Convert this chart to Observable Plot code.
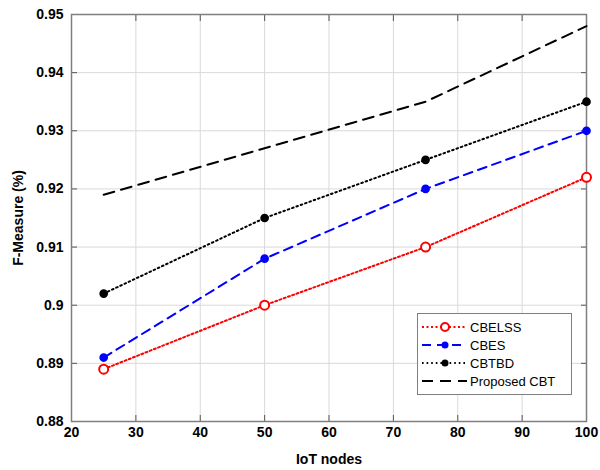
<!DOCTYPE html>
<html>
<head>
<meta charset="utf-8">
<script src="https://cdn.jsdelivr.net/npm/d3@7"></script>
<script src="https://cdn.jsdelivr.net/npm/@observablehq/plot@0.6"></script>
<style>
  body { margin: 0; background: #fff; }
  #wrap { position: relative; width: 600px; height: 470px; }
  #legend {
    position: absolute; left: 417px; top: 313px; width: 155px; height: 82px;
    border: 1px solid #7f7f7f; background: #fff; box-sizing: border-box;
    font-family: "Liberation Sans", Arial, sans-serif; font-size: 13px; color: #000;
    padding-top: 4px;
  }
  .row { display: flex; align-items: center; height: 18px; }
  .row svg { margin-left: 3px; margin-right: 2px; }
</style>
</head>
<body>
<div id="wrap"><div id="chart"></div><div id="legend"></div></div>
<script>
const nodes = [25, 50, 75, 100];
const seriesNames = ["CBELSS", "CBES", "CBTBD", "Proposed CBT"];
const cbelss = [0.889, 0.900, 0.910, 0.922];
const cbes = [0.891, 0.908, 0.920, 0.930];
const cbtbd = [0.902, 0.915, 0.925, 0.935];
const proposed = [0.919, 0.927, 0.935, 0.948];
const xTicks = [20, 30, 40, 50, 60, 70, 80, 90, 100];
const yTicks = [0.88, 0.89, 0.90, 0.91, 0.92, 0.93, 0.94, 0.95];

const styles = {
  "CBELSS": {color: "#ff0000", dash: "2 2.5", marker: "open"},
  "CBES": {color: "#0000ff", dash: "9 6", marker: "filled"},
  "CBTBD": {color: "#000000", dash: "1.6 3", marker: "filled"},
  "Proposed CBT": {color: "#000000", dash: "11 7", marker: null}
};
const valuesBySeries = [cbelss, cbes, cbtbd, proposed];
const data = seriesNames.map((name, i) => nodes.map((n, j) => ({name, x: n, y: valuesBySeries[i][j]})));

const fontFam = '"Liberation Sans Narrow", "Liberation Sans", Arial, sans-serif';
const yFmt = d => String(+d.toFixed(2));

const marks = [
  Plot.gridX(xTicks, {stroke: "#d9d9d9", strokeOpacity: 1, strokeWidth: 1}),
  Plot.gridY(yTicks, {stroke: "#d9d9d9", strokeOpacity: 1, strokeWidth: 1}),
  Plot.axisX(xTicks, {tickSize: -6, stroke: "#555", tickPadding: 12, fontWeight: "bold", fontSize: 14,
    label: "IoT nodes", labelAnchor: "center", labelArrow: "none", labelOffset: 42}),
  Plot.axisX(xTicks, {anchor: "top", tickSize: -6, stroke: "#555", tickFormat: () => "", label: null}),
  Plot.axisY(yTicks, {tickSize: -6, stroke: "#555", tickPadding: 14, fontWeight: "bold", fontSize: 14, tickFormat: yFmt,
    label: "F-Measure (%)", labelAnchor: "center", labelArrow: "none", labelOffset: 58}),
  Plot.axisY(yTicks, {anchor: "right", tickSize: -6, stroke: "#555", tickFormat: () => "", label: null}),
  Plot.frame({stroke: "#7f7f7f", strokeWidth: 1.5})
];
data.forEach(d => {
  const s = styles[d[0].name];
  marks.push(Plot.line(d, {x: "x", y: "y", stroke: s.color, strokeWidth: 2, strokeDasharray: s.dash}));
  if (s.marker === "open") marks.push(Plot.dot(d, {x: "x", y: "y", r: 4.5, stroke: s.color, strokeWidth: 2, fill: "#fff"}));
  if (s.marker === "filled") marks.push(Plot.dot(d, {x: "x", y: "y", r: 3.6, stroke: s.color, fill: s.color}));
});

const chart = Plot.plot({
  width: 600, height: 470,
  marginLeft: 71, marginRight: 14, marginTop: 14, marginBottom: 49,
  style: {fontFamily: fontFam, fontSize: "14px", color: "#000", background: "#fff"},
  x: {domain: [20, 100]},
  y: {domain: [0.88, 0.95]},
  marks
});
chart.querySelectorAll('[aria-label="x-axis label"] text, [aria-label="y-axis label"] text').forEach(t => {
  t.setAttribute("font-weight", "bold");
});
document.getElementById("chart").append(chart);

const legend = document.getElementById("legend");
seriesNames.forEach(name => {
  const s = styles[name];
  const row = document.createElement("div");
  row.className = "row";
  let m = "";
  if (s.marker === "open") m = `<circle cx="24" cy="7" r="4" fill="#fff" stroke="${s.color}" stroke-width="2"/>`;
  if (s.marker === "filled") m = `<circle cx="24" cy="7" r="3.5" fill="${s.color}"/>`;
  row.innerHTML = `<svg width="47" height="14"><line x1="1" y1="7" x2="46" y2="7" stroke="${s.color}" stroke-width="2" stroke-dasharray="${s.dash}"/>${m}</svg><span>${name}</span>`;
  legend.append(row);
});
</script>
</body>
</html>
